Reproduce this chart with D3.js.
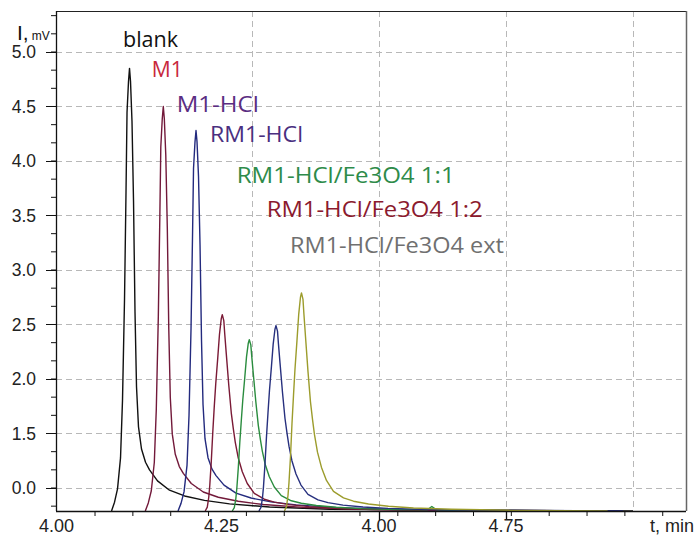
<!DOCTYPE html>
<html><head><meta charset="utf-8">
<script src="https://cdn.jsdelivr.net/npm/d3@7"></script>
<style>
html,body{margin:0;padding:0;background:#fff;}
svg{display:block;}
</style></head>
<body>
<script>
// ---- data (t in min, I in mV) ----
const seriesNames = ["blank","M1","M1-HCl","RM1-HCl","RM1-HCl/Fe3O4 1:1","RM1-HCl/Fe3O4 1:2","RM1-HCl/Fe3O4 ext"];
const seriesColors = ["#111111","#72193a","#232a7e","#7a1a36","#2a8c3e","#27307e","#9c9c2c"];
const labelColors = ["#111111","#c8283c","#5a2d82","#4a2f80","#2e8b4a","#8b1a2e","#707070"];

const blank = [[3.9735,0.789],[3.9794,0.870],[3.9853,0.992],[3.9912,1.276],[3.9951,1.804],[3.9991,2.738],[4.0020,3.713],[4.0040,4.444],[4.0069,4.728],[4.0089,4.850],[4.0109,4.728],[4.0138,4.363],[4.0168,3.632],[4.0197,2.616],[4.0227,1.926],[4.0266,1.561],[4.0325,1.358],[4.0404,1.236],[4.0483,1.167],[4.0640,1.065],[4.0876,0.980],[4.1172,0.927],[4.1565,0.886],[4.2058,0.854],[4.2845,0.826],[4.4026,0.805],[4.7000,0.795],[5.0000,0.789]];
const m1 = [[4.0400,0.789],[4.0459,0.863],[4.0518,0.975],[4.0577,1.234],[4.0616,1.717],[4.0656,2.570],[4.0685,3.461],[4.0705,4.129],[4.0734,4.389],[4.0754,4.500],[4.0774,4.389],[4.0803,4.055],[4.0833,3.387],[4.0862,2.459],[4.0892,1.828],[4.0931,1.494],[4.0990,1.309],[4.1069,1.197],[4.1148,1.134],[4.1305,1.041],[4.1541,0.963],[4.1837,0.915],[4.2230,0.878],[4.2723,0.848],[4.3510,0.822],[4.4691,0.804],[4.7500,0.795],[4.9500,0.789]];
const m1hcl = [[4.1044,0.789],[4.1103,0.859],[4.1162,0.964],[4.1221,1.208],[4.1260,1.662],[4.1300,2.465],[4.1329,3.303],[4.1349,3.931],[4.1378,4.175],[4.1398,4.280],[4.1418,4.175],[4.1447,3.861],[4.1477,3.233],[4.1506,2.360],[4.1536,1.766],[4.1575,1.452],[4.1634,1.278],[4.1713,1.173],[4.1792,1.114],[4.1949,1.026],[4.2185,0.953],[4.2481,0.908],[4.2874,0.873],[4.3367,0.845],[4.4154,0.820],[4.5335,0.803],[4.8000,0.795],[4.9800,0.789]];
const rm1hcl = [[4.1580,0.789],[4.1620,0.825],[4.1649,0.915],[4.1669,1.023],[4.1698,1.239],[4.1728,1.509],[4.1757,1.744],[4.1787,1.960],[4.1826,2.194],[4.1860,2.410],[4.1895,2.554],[4.1915,2.590],[4.1945,2.536],[4.1964,2.410],[4.1994,2.230],[4.2043,1.942],[4.2092,1.690],[4.2132,1.545],[4.2171,1.419],[4.2230,1.275],[4.2309,1.149],[4.2407,1.041],[4.2545,0.951],[4.2742,0.897],[4.2939,0.870],[4.3234,0.847],[4.3628,0.829],[4.4120,0.814],[4.4868,0.803],[4.6049,0.794],[4.8500,0.789]];
const fe11 = [[4.2112,0.789],[4.2152,0.820],[4.2181,0.899],[4.2201,0.993],[4.2230,1.182],[4.2260,1.417],[4.2290,1.622],[4.2319,1.810],[4.2358,2.014],[4.2392,2.203],[4.2427,2.329],[4.2447,2.360],[4.2477,2.313],[4.2496,2.203],[4.2526,2.046],[4.2575,1.794],[4.2624,1.575],[4.2664,1.449],[4.2703,1.339],[4.2762,1.213],[4.2841,1.103],[4.2939,1.009],[4.3077,0.930],[4.3274,0.883],[4.3471,0.860],[4.3766,0.839],[4.4160,0.824],[4.4652,0.811],[4.5400,0.802],[4.5950,0.800],[4.6040,0.830],[4.6130,0.799],[4.6581,0.794],[4.9000,0.789]];
const fe12 = [[4.2637,0.789],[4.2677,0.823],[4.2706,0.908],[4.2726,1.010],[4.2755,1.214],[4.2785,1.469],[4.2815,1.691],[4.2844,1.895],[4.2883,2.116],[4.2917,2.320],[4.2952,2.456],[4.2972,2.490],[4.3002,2.439],[4.3021,2.320],[4.3051,2.150],[4.3100,1.878],[4.3149,1.640],[4.3189,1.503],[4.3228,1.384],[4.3287,1.248],[4.3366,1.129],[4.3464,1.027],[4.3602,0.942],[4.3799,0.891],[4.3996,0.866],[4.4291,0.843],[4.4685,0.826],[4.5177,0.813],[4.5925,0.803],[4.7106,0.794],[4.9200,0.789]];
const feext = [[4.3139,0.789],[4.3179,0.829],[4.3208,0.929],[4.3228,1.049],[4.3258,1.289],[4.3287,1.589],[4.3317,1.850],[4.3346,2.090],[4.3385,2.350],[4.3419,2.590],[4.3454,2.750],[4.3474,2.790],[4.3504,2.730],[4.3523,2.590],[4.3553,2.390],[4.3602,2.070],[4.3651,1.790],[4.3691,1.629],[4.3730,1.489],[4.3789,1.329],[4.3868,1.189],[4.3966,1.069],[4.4104,0.969],[4.4301,0.909],[4.4498,0.879],[4.4793,0.853],[4.5187,0.833],[4.5679,0.817],[4.6427,0.805],[4.7608,0.795],[4.9500,0.789]];
const seriesData = [blank, m1, m1hcl, rm1hcl, fe11, fe12, feext];

// axis ticks / labels as printed on the original
const yTickValues = [5.0, 4.5, 4.0, 3.5, 3.0, 2.5, 2.0, 1.5, 1.0];
const yTickLabels = ["5.0","4.5","4.0","3.5","3.0","2.5","2.0","1.5","0.0"];
const xGridValues = [4.25, 4.50, 4.75, 5.00];
const xLabelValues = [3.865, 4.19, 4.50, 4.75];
const xTickLabels = ["4.00","4.25","4.00","4.75"];
const xMajorTicks = [4.50, 4.75];

// ---- layout ----
const W = 696, H = 542;
const L = 56, R = 686, T = 11, B = 511;
const x = d3.scaleLinear().domain([3.8642, 5.1043]).range([L, R]);
const y = d3.scaleLinear().domain([0.789, 5.376]).range([B, T]);

const svg = d3.select("body").append("svg").attr("width", W).attr("height", H);

// grid
const grid = svg.append("g").attr("stroke", "#b8b8b8").attr("stroke-width", 1).attr("stroke-dasharray", "6,4");
grid.selectAll("line.h").data(yTickValues).join("line").attr("class","h")
  .attr("x1", L).attr("x2", R).attr("y1", d => Math.round(y(d)) + 0.5).attr("y2", d => Math.round(y(d)) + 0.5);
grid.selectAll("line.v").data(xGridValues).join("line").attr("class","v")
  .attr("x1", d => Math.round(x(d)) + 0.5).attr("x2", d => Math.round(x(d)) + 0.5).attr("y1", T).attr("y2", B);

// curves
const line = d3.line().x(d => x(d[0])).y(d => y(d[1]));
svg.append("g").selectAll("path").data(seriesData).join("path")
  .attr("d", line).attr("fill", "none")
  .attr("stroke", (d, i) => seriesColors[i]).attr("stroke-width", 1.4).attr("stroke-linejoin", "round");

// frame
svg.append("line").attr("x1", L).attr("x2", R).attr("y1", T + 0.5).attr("y2", T + 0.5).attr("stroke", "#222").attr("stroke-width", 1.2);
svg.append("line").attr("x1", R + 0.5).attr("x2", R + 0.5).attr("y1", T).attr("y2", B).attr("stroke", "#666").attr("stroke-width", 1.5);

// y axis
const yMinor = d3.range(0.8333, 5.37, 1 / 6);
const yAxisG = svg.append("g");
yAxisG.append("line").attr("x1", L + 0.5).attr("x2", L + 0.5).attr("y1", T).attr("y2", B).attr("stroke", "#111").attr("stroke-width", 1.3);
yAxisG.selectAll("line.mn").data(yMinor).join("line").attr("class","mn")
  .attr("x1", L - 5).attr("x2", L).attr("y1", d => y(d)).attr("y2", d => y(d)).attr("stroke", "#111");
yAxisG.selectAll("line.mj").data(yTickValues).join("line").attr("class","mj")
  .attr("x1", L - 10).attr("x2", L).attr("y1", d => Math.round(y(d)) + 0.5).attr("y2", d => Math.round(y(d)) + 0.5).attr("stroke", "#111");
yAxisG.selectAll("text").data(yTickValues).join("text")
  .attr("x", 36).attr("y", d => y(d)).attr("dy", "0.35em").attr("text-anchor", "end")
  .attr("font-family", "Liberation Sans, Arial, sans-serif").attr("font-size", 17.5).attr("fill", "#222")
  .text((d, i) => yTickLabels[i]);

// x axis
const xMinor = d3.range(3.941, 5.10, 0.0745);
const xAxisG = svg.append("g");
xAxisG.append("line").attr("x1", L).attr("x2", R).attr("y1", B + 0.5).attr("y2", B + 0.5).attr("stroke", "#111").attr("stroke-width", 1.3);
xAxisG.selectAll("line.mn").data(xMinor).join("line").attr("class","mn")
  .attr("x1", d => x(d)).attr("x2", d => x(d)).attr("y1", B).attr("y2", B + 5).attr("stroke", "#111");
xAxisG.selectAll("line.mj").data(xMajorTicks).join("line").attr("class","mj")
  .attr("x1", d => Math.round(x(d)) + 0.5).attr("x2", d => Math.round(x(d)) + 0.5).attr("y1", B).attr("y2", B + 9).attr("stroke", "#111").attr("stroke-width", 1.3);
xAxisG.selectAll("text").data(xLabelValues).join("text")
  .attr("x", d => x(d)).attr("y", 532).attr("text-anchor", "middle")
  .attr("font-family", "Liberation Sans, Arial, sans-serif").attr("font-size", 18).attr("fill", "#222")
  .text((d, i) => xTickLabels[i]);
svg.append("text").attr("x", 694).attr("y", 532).attr("text-anchor", "end")
  .attr("font-family", "Liberation Sans, Arial, sans-serif").attr("font-size", 18).attr("fill", "#222")
  .text("t, min");

// y title
const yt = svg.append("text").attr("x", 17).attr("y", 40).attr("font-family", "Liberation Sans, Arial, sans-serif").attr("fill", "#111");
yt.append("tspan").attr("font-size", 21).text("I,");
yt.append("tspan").attr("font-size", 12).attr("dx", 3).text("mV");

// series annotations (anchor in data units, width of printed label in px)
const labelAnchors = [[3.9961,5.046],[4.0526,4.773],[4.1018,4.452],[4.1673,4.177],[4.2199,3.795],[4.2789,3.489],[4.3248,3.153]];
const labelWidths = [55, 31, 82, 93, 218, 216, 214];
svg.append("g").selectAll("text").data(seriesNames).join("text")
  .attr("x", (d, i) => x(labelAnchors[i][0])).attr("y", (d, i) => y(labelAnchors[i][1]))
  .attr("font-family", "Open Sans, sans-serif").attr("font-size", 21.5)
  .attr("fill", (d, i) => labelColors[i])
  .attr("textLength", (d, i) => labelWidths[i]).attr("lengthAdjust", "spacingAndGlyphs")
  .text(d => d);
</script>
</body></html>
